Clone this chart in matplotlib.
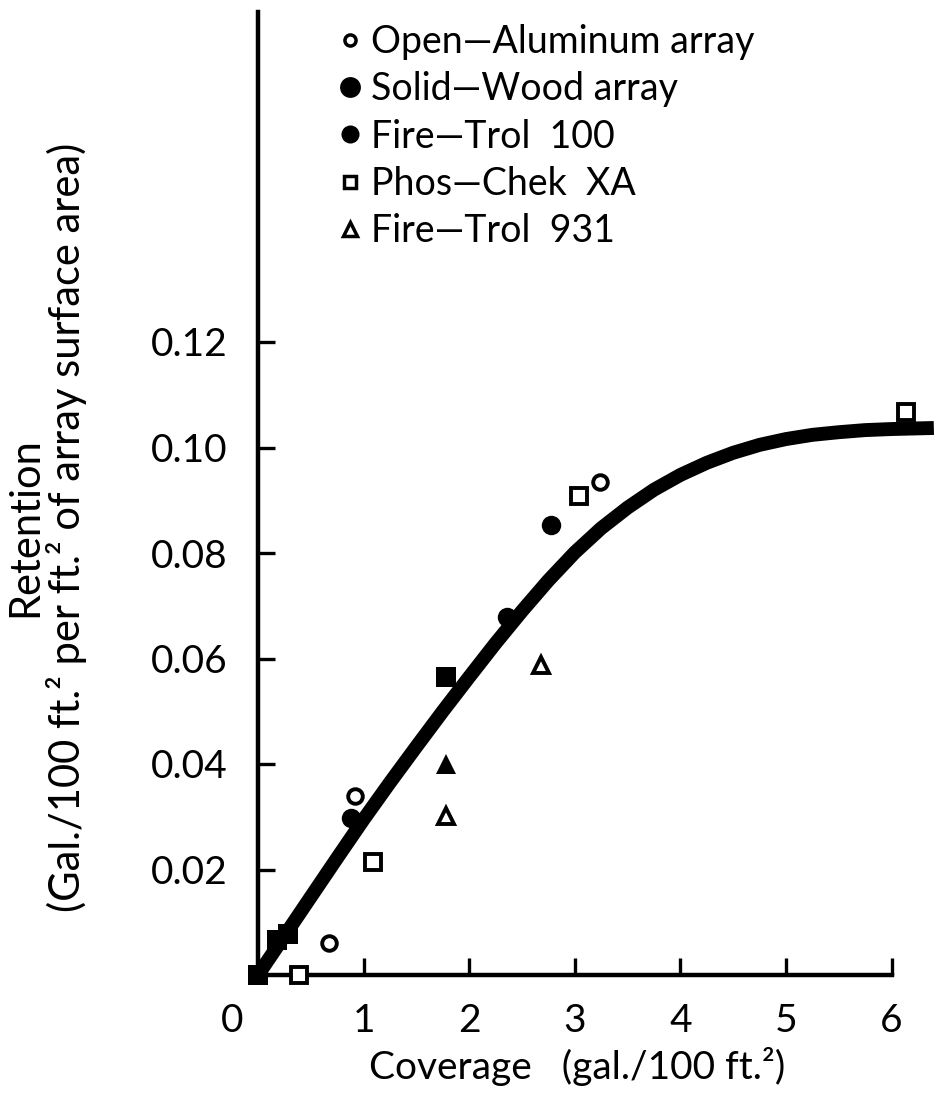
import matplotlib.pyplot as plt
from matplotlib.lines import Line2D
from matplotlib.transforms import ScaledTranslation

# Fitted retention curve, read point by point
curve_x = [0.0, 0.25, 0.5, 0.75, 1.0, 1.25, 1.5, 1.75, 2.0, 2.25, 2.5, 2.75,
           3.0, 3.25, 3.5, 3.75, 4.0, 4.25, 4.5, 4.75, 5.0, 5.25, 5.5, 5.75,
           6.0, 6.4]
curve_y = [0.0, 0.0074, 0.0148, 0.0222, 0.0295, 0.0365, 0.0433, 0.0500,
           0.0565, 0.0629, 0.0690, 0.0748, 0.0801, 0.0847, 0.0886, 0.0920,
           0.0948, 0.0971, 0.0990, 0.1005, 0.1016, 0.1024, 0.1029, 0.1033,
           0.1035, 0.1037]

# Fire-Trol 100
ft100_open_x = [0.67, 0.92, 3.24]
ft100_open_y = [0.0061, 0.0339, 0.0935]
ft100_solid_x = [0.88, 2.36, 2.77]
ft100_solid_y = [0.0298, 0.0679, 0.0853]

# Phos-Chek XA
pc_open_x = [0.39, 1.09, 3.04, 6.14]
pc_open_y = [0.0, 0.0214, 0.0908, 0.1067]
pc_solid_x = [0.0, 0.18, 0.28, 1.78]
pc_solid_y = [0.0, 0.0066, 0.0078, 0.0565]

# Fire-Trol 931
ft931_open_x = [1.78, 2.68]
ft931_open_y = [0.0301, 0.0588]
ft931_solid_x = [1.78]
ft931_solid_y = [0.040]

x_ticks = [0, 1, 2, 3, 4, 5, 6]
y_ticks = [0.02, 0.04, 0.06, 0.08, 0.10, 0.12]
y_tick_labels = ["0.02", "0.04", "0.06", "0.08", "0.10", "0.12"]

legend_labels = [
    "Open\u2014Aluminum array",
    "Solid\u2014Wood array",
    "Fire\u2014Trol  100",
    "Phos\u2014Chek  XA",
    "Fire\u2014Trol  931",
]


def main() -> None:
    plt.rcParams["font.family"] = ["Lato", "DejaVu Sans"]
    W, H = 941, 1098
    fig = plt.figure(figsize=(W / 100, H / 100), dpi=100)
    ax = fig.add_axes([258 / W, 123 / H, (W - 258) / W, 963 / H])

    ax.plot(curve_x, curve_y, color="black", lw=10,
            solid_capstyle="butt", solid_joinstyle="round", zorder=2)

    mk = dict(linestyle="none", color="black", zorder=4, clip_on=False)
    open_kw = dict(markerfacecolor="white", markeredgewidth=2.8)
    ax.plot(ft100_open_x, ft100_open_y, marker="o", ms=10.5, **open_kw, **mk)
    ax.plot(ft100_solid_x, ft100_solid_y, marker="o", ms=14, mew=0, **mk)
    ax.plot(pc_open_x, pc_open_y, marker="s", ms=11, **open_kw, **mk)
    ax.plot(pc_solid_x, pc_solid_y, marker="s", ms=14, mew=0, **mk)
    ax.plot(ft931_open_x, ft931_open_y, marker="^", ms=12, **open_kw, **mk)
    ax.plot(ft931_solid_x, ft931_solid_y, marker="^", ms=14, mew=0, **mk)

    ax.set_xlim(0, (W - 258) / 105.6)
    ax.set_ylim(0, 963 / 5275)

    for side in ("top", "right"):
        ax.spines[side].set_visible(False)
    for side in ("left", "bottom"):
        ax.spines[side].set_linewidth(3.2)
    ax.spines["bottom"].set_bounds(0, 6)

    ax.set_xticks(x_ticks)
    ax.set_xticklabels([str(t) for t in x_ticks])
    ax.set_yticks(y_ticks)
    ax.set_yticklabels(y_tick_labels)
    ax.tick_params(direction="in", length=12, width=2.4, labelsize=28)
    ax.tick_params(axis="x", pad=20)
    ax.tick_params(axis="y", pad=22)
    # the "0" sits left of the corner
    zero = ax.get_xticklabels()[0]
    zero.set_transform(zero.get_transform()
                       + ScaledTranslation(-0.26, 0, fig.dpi_scale_trans))

    fig.text(577 / W, 1 - 1067 / H, "Coverage   (gal./100 ft.\u00b2)",
             fontsize=28, ha="center", va="center")
    fig.text(47 / W, 1 - 527 / H,
             "Retention\n"
             "(Gal./100 ft.\u00b2 per ft.\u00b2 of array surface area)",
             rotation=90, fontsize=30, ha="center", va="center",
             multialignment="center", linespacing=1.05)

    handles = [
        Line2D([], [], ls="none", marker="o", ms=8, color="black",
               markerfacecolor="white", markeredgewidth=2.5),
        Line2D([], [], ls="none", marker="o", ms=15, color="black", mew=0),
        Line2D([], [], ls="none", marker="o", ms=13, color="black", mew=0),
        Line2D([], [], ls="none", marker="s", ms=9, color="black",
               markerfacecolor="white", markeredgewidth=2.5),
        Line2D([], [], ls="none", marker="^", ms=10, color="black",
               markerfacecolor="white", markeredgewidth=2.5),
    ]
    ax.legend(handles, legend_labels, loc="upper left",
              bbox_to_anchor=(341 / W, 1 - 24 / H),
              bbox_transform=fig.transFigure, frameon=False, fontsize=27,
              handlelength=0.5, handletextpad=0.3, labelspacing=0.3,
              borderaxespad=0, borderpad=0)

    fig.savefig("out.png", dpi=100)


if __name__ == "__main__":
    main()
